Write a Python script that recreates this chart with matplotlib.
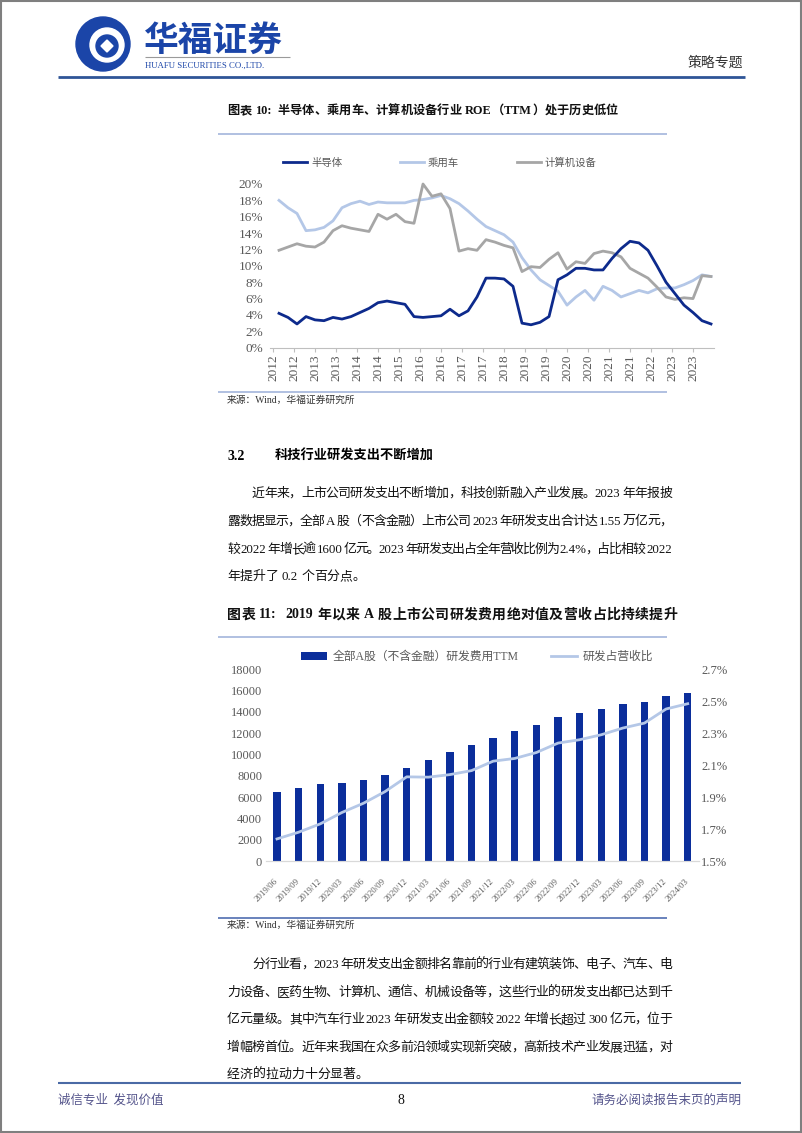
import re
import numpy as np
import pandas as pd
import matplotlib
matplotlib.use('Agg')
import matplotlib.pyplot as plt
from matplotlib.patches import Circle, Rectangle, Polygon
from matplotlib.font_manager import FontProperties
from matplotlib.transforms import ScaledTranslation

CJK = 'Noto Sans CJK SC'
MIX = ['Liberation Serif', 'Noto Sans CJK SC']
W, H = 802, 1133

# ---- chart 1 data: ROE (TTM), quarterly, %
roe_dates = pd.date_range('2012-03-31', '2024-03-31', freq='QE')
semi = [4.2, 3.7, 2.9, 3.8, 3.4, 3.3, 3.7, 3.5, 3.8, 4.3,
        4.8, 5.5, 5.7, 5.5, 5.3, 3.8, 3.7, 3.8, 3.9, 4.7,
        3.9, 4.5, 6.2, 8.5, 8.5, 8.4, 7.5, 3.0, 2.8, 3.1,
        3.8, 8.3, 8.9, 9.7, 9.7, 9.5, 9.5, 10.9, 12.1, 13.0,
        12.8, 11.9, 10.0, 8.0, 6.6, 5.2, 4.3, 3.3, 2.9]
car = [18.0, 17.1, 16.4, 14.3, 14.4, 14.7, 15.5, 17.1, 17.6, 17.9,
       17.5, 17.8, 17.7, 17.7, 17.7, 18.0, 18.1, 18.3, 18.6, 18.2,
       17.6, 16.7, 15.7, 14.8, 14.3, 13.8, 12.9, 11.0, 9.5, 8.3,
       7.6, 6.9, 5.2, 6.2, 7.0, 5.8, 7.5, 7.0, 6.2, 6.6,
       7.0, 6.7, 7.2, 7.3, 7.3, 7.7, 8.2, 8.9, 8.7]
comp = [11.9, 12.3, 12.7, 12.4, 12.3, 12.9, 14.3, 14.9, 14.6, 14.4,
        14.2, 16.3, 15.7, 16.3, 15.4, 15.2, 20.0, 18.5, 18.8, 17.0,
        11.8, 12.1, 11.9, 13.2, 12.9, 12.5, 12.2, 9.3, 9.9, 9.8,
        10.8, 11.6, 9.6, 10.5, 10.3, 11.5, 11.8, 11.6, 11.1, 9.7,
        9.1, 8.5, 7.4, 6.2, 5.9, 6.1, 6.0, 8.8, 8.7]
roe_names = ['半导体', '乘用车', '计算机设备']
roe_tick_labels = ['2012', '2012', '2013', '2013', '2014', '2014', '2015',
                   '2016', '2016', '2017', '2017', '2018', '2019', '2019',
                   '2020', '2020', '2021', '2021', '2022', '2023', '2023']

# ---- chart 2 data
rd_dates = ['2019/06', '2019/09', '2019/12', '2020/03', '2020/06', '2020/09',
            '2020/12', '2021/03', '2021/06', '2021/09', '2021/12', '2022/03',
            '2022/06', '2022/09', '2022/12', '2023/03', '2023/06', '2023/09',
            '2023/12', '2024/03']
rd_expense = [6470, 6810, 7190, 7310, 7625, 8090, 8750, 9470, 10190, 10875,
              11560, 12190, 12780, 13500, 13900, 14280, 14690, 14950, 15500, 15780]
rd_ratio = [1.638, 1.680, 1.732, 1.803, 1.861, 1.934, 2.026, 2.024, 2.040, 2.065,
            2.124, 2.141, 2.178, 2.237, 2.258, 2.289, 2.331, 2.362, 2.450, 2.483]
rd_names = ['全部A股（不含金融）研发费用TTM', '研发占营收比']

title1 = '图表 10:  半导体、乘用车、计算机设备行业 ROE（TTM）处于历史低位'
title2 = '图表 11:  2019 年以来 A 股上市公司研发费用绝对值及营收占比持续提升'
para1 = ['近年来，上市公司研发支出不断增加，科技创新融入产业发展。2023 年年报披',
         '露数据显示，全部 A 股（不含金融）上市公司 2023 年研发支出合计达 1.55 万亿元，',
         '较 2022 年增长逾 1600 亿元。2023 年研发支出占全年营收比例为 2.4%，占比相较 2022',
         '年提升了 0.2 个百分点。']
para2 = ['分行业看，2023 年研发支出金额排名靠前的行业有建筑装饰、电子、汽车、电',
         '力设备、医药生物、计算机、通信、机械设备等，这些行业的研发支出都已达到千',
         '亿元量级。其中汽车行业 2023 年研发支出金额较 2022 年增长超过 300 亿元，位于',
         '增幅榜首位。近年来我国在众多前沿领域实现新突破，高新技术产业发展迅猛，对',
         '经济的拉动力十分显著。']

fig = plt.figure(figsize=(W / 100, H / 100), dpi=100)
page = fig.add_axes([0, 0, 1, 1])
page.set_xlim(0, W)
page.set_ylim(H, 0)
page.axis('off')


def box(l, t, r, b):
    return [l / W, 1 - b / H, (r - l) / W, (b - t) / H]


def hline(y, x0, x1, color, lw=1.0):
    page.plot([x0, x1], [y, y], color=color, lw=lw, solid_capstyle='butt')


def text_line(y, x0, x1, s, size=9.3, justify=True, weight='normal'):
    # lay out a line token by token, spread to fill x0..x1
    parts = re.findall(r'[0-9A-Za-z.%:]+| |.', s)
    r = fig.canvas.get_renderer()
    arts, widths = [], []
    for p in parts:
        if p == ' ':
            arts.append(None)
            widths.append(size * 100 / 72 * 0.25)
            continue
        t = page.text(0, y, p, fontsize=size, family=MIX, weight=weight,
                      va='center', ha='left', color='#111111')
        arts.append(t)
        widths.append(t.get_window_extent(r).width)
    gap = (x1 - x0 - sum(widths)) / (len(parts) - 1) if justify else 0
    x = x0
    for t, w in zip(arts, widths):
        if t is not None:
            t.set_x(x)
        x += w + gap


# page frame, header, footer
page.add_patch(Rectangle((1, 1), W - 2, H - 2, fill=False, ec='#7f7f7f', lw=1.5))
page.add_patch(Circle((103, 44), 27, color='#1B45A8'))
page.add_patch(Circle((107, 45), 17, color='white'))
page.add_patch(Circle((107, 46), 11, color='#1B45A8'))
page.add_patch(Polygon([(107, 40), (113, 46), (107, 52), (101, 46)], color='white'))
page.text(144, 40, '华福证券', fontsize=25, family=CJK, weight='bold', color='#1B45A8', va='center')
hline(57, 145, 290, '#9a9a9a', 0.8)
page.text(145, 66, 'HUAFU SECURITIES CO.,LTD.', fontsize=6.3, family='Liberation Serif',
          color='#1B45A8', va='center')
page.text(743, 63, '策略专题', fontsize=10, family=CJK, color='#333333', va='center', ha='right')
hline(77, 58, 745, '#2F5597', 2.0)
hline(1083, 58, 741, '#4A6AA5', 1.5)
page.text(58, 1100, '诚信专业  发现价值', fontsize=9, family=CJK, color='#55558C', va='center')
page.text(401, 1100, '8', fontsize=10, family='Liberation Serif', color='#111111', va='center', ha='center')
page.text(741, 1100, '请务必阅读报告末页的声明', fontsize=9, family=CJK, color='#55558C',
          va='center', ha='right')

# titles and text
text_line(111, 227, 618, title1, size=8.8, weight='bold')
hline(134, 218, 667, '#A3B5DB', 1.2)
hline(392, 218, 667, '#A3B5DB', 1.2)
page.text(227, 400, '来源：Wind，华福证券研究所', fontsize=7, family=MIX, va='center', color='#333333')
page.text(227, 456, '3.2', fontsize=10, family='Liberation Serif', weight='bold', va='center')
page.text(275, 456, '科技行业研发支出不断增加', fontsize=9.5, family=CJK, weight='bold', va='center')
for i, (yy, s) in enumerate(zip([494, 522, 550, 577], para1)):
    text_line(yy, 252 if i == 0 else 227, 672, s, justify=i < 3)
text_line(615, 227, 677, title2, size=10, weight='bold')
hline(637, 218, 667, '#A3B5DB', 1.2)
hline(918, 218, 667, '#4F6DB0', 1.2)
page.text(227, 925, '来源：Wind，华福证券研究所', fontsize=7, family=MIX, va='center', color='#333333')
for i, (yy, s) in enumerate(zip([965, 993, 1020, 1048, 1075], para2)):
    text_line(yy, 252 if i == 0 else 227, 672, s, justify=i < 4)

# ---- chart 1
grey = '#595959'
ax1 = fig.add_axes(box(270, 184, 714, 347.7))
months = [(d.year - 2012) * 12 + d.month - 1 for d in roe_dates]
l2, = ax1.plot(months, car, color='#B4C7E7', lw=2, clip_on=False)
l3, = ax1.plot(months, comp, color='#A6A6A6', lw=2, clip_on=False)
l1, = ax1.plot(months, semi, color='#0D2A8C', lw=2, clip_on=False)
ax1.set_xlim(-1, 147)
ax1.set_ylim(0, 20)
ax1.set_yticks(np.arange(0, 21, 2))
ax1.set_yticklabels([f'{v}%' for v in range(0, 21, 2)], fontsize=9.5, family='Liberation Serif', color=grey)
ax1.set_xticks(np.arange(0, 141, 7))
ax1.set_xticklabels(roe_tick_labels, rotation=90, fontsize=9.5, family='Liberation Serif', color=grey)
for s in ['top', 'right', 'left']:
    ax1.spines[s].set_visible(False)
ax1.spines['bottom'].set_color('#BFBFBF')
ax1.tick_params(axis='y', length=0, pad=5)
ax1.tick_params(axis='x', length=3, color='#BFBFBF', pad=2)
ax1.patch.set_visible(False)
ax1.legend([l1, l2, l3], roe_names, loc='center', bbox_to_anchor=(440 / W, 1 - 163 / H),
           bbox_transform=fig.transFigure, ncol=3, frameon=False,
           prop=FontProperties(family=CJK, size=7.5), handlelength=2.3, handletextpad=0.4,
           columnspacing=5.5, labelcolor=grey)

# ---- chart 2
ax2 = fig.add_axes(box(266.2, 669, 698.5, 861))
x = np.arange(len(rd_dates))
bars = ax2.bar(x, rd_expense, width=0.34, color='#0B2E9B')
ax2.set_xlim(-0.5, len(rd_dates) - 0.5)
ax2.set_ylim(0, 18000)
ax2.set_yticks(np.arange(0, 18001, 2000))
ax2.set_yticklabels([str(v) for v in range(0, 18001, 2000)], fontsize=9, family='Liberation Serif', color=grey)
ax2.set_xticks(x)
ax2.set_xticklabels(rd_dates, rotation=45, ha='right', va='center', rotation_mode='anchor',
                    fontsize=6.3, family='Liberation Serif', color=grey)
for lab in ax2.get_xticklabels():
    lab.set_transform(lab.get_transform() + ScaledTranslation(-0.045, 0, fig.dpi_scale_trans))
ax2.tick_params(axis='both', length=0)
ax2.tick_params(axis='x', pad=14)
ax2.tick_params(axis='y', pad=3)
ax2r = ax2.twinx()
ln, = ax2r.plot(x, rd_ratio, color='#B4C7E7', lw=2)
ax2r.set_ylim(1.5, 2.7)
ax2r.set_yticks(np.arange(1.5, 2.71, 0.2))
ax2r.set_yticklabels([f'{v:.1f}%' for v in np.arange(1.5, 2.71, 0.2)], fontsize=9,
                     family='Liberation Serif', color=grey)
ax2r.tick_params(axis='y', length=0, pad=2)
for a in (ax2, ax2r):
    for s in ['top', 'right', 'left']:
        a.spines[s].set_visible(False)
    a.spines['bottom'].set_color('#D9D9D9')
ax2.patch.set_visible(False)
ax2r.legend([bars, ln], rd_names, loc='center', bbox_to_anchor=(477 / W, 1 - 657 / H),
            bbox_transform=fig.transFigure, ncol=2, frameon=False,
            prop=FontProperties(family=MIX, size=8.5), handlelength=2.2, handleheight=0.6,
            handletextpad=0.5, columnspacing=2.7, labelcolor=grey)

fig.savefig('out.png', dpi=100)
